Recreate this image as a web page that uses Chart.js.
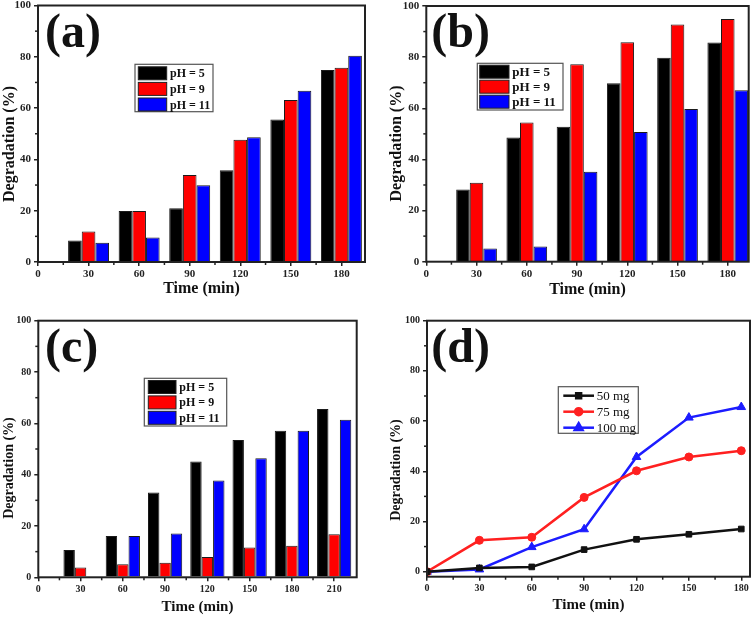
<!DOCTYPE html>
<html><head><meta charset="utf-8">
<script src="https://cdn.jsdelivr.net/npm/chart.js@4.4.0/dist/chart.umd.min.js"></script>
<style>
html,body{margin:0;padding:0;background:#fff;}
#wrap{position:relative;width:756px;height:618px;overflow:hidden;}
canvas{position:absolute;}
</style></head><body>
<div id="wrap">
<canvas id="ca" width="378" height="300" style="left:0;top:0"></canvas>
<canvas id="cb" width="378" height="300" style="left:378px;top:0"></canvas>
<canvas id="cc" width="378" height="318" style="left:0;top:300px"></canvas>
<canvas id="cd" width="378" height="318" style="left:378px;top:300px"></canvas>
</div>
<script>
// ---------- data ----------
const phLabels = ['pH = 5', 'pH = 9', 'pH = 11'];
const massLabels = ['50 mg', '75 mg', '100 mg'];

const timesAB = [30, 60, 90, 120, 150, 180];
const a_pH5  = [8.4, 19.9, 21.0, 35.8, 55.6, 74.9];
const a_pH9  = [11.9, 19.9, 33.9, 47.7, 63.2, 75.7];
const a_pH11 = [7.5, 9.6, 29.9, 48.6, 66.8, 80.4];

const b_pH5  = [28.2, 48.6, 52.8, 69.8, 79.8, 85.7];
const b_pH9  = [30.9, 54.4, 77.2, 85.8, 92.8, 94.9];
const b_pH11 = [5.2, 5.9, 35.2, 50.7, 59.7, 67.1];

const timesC = [30, 60, 90, 120, 150, 180, 210];
const c_pH5  = [10.6, 16.1, 33.0, 45.1, 53.5, 57.1, 65.6];
const c_pH9  = [3.8, 5.1, 5.7, 7.9, 11.6, 12.3, 16.8];
const c_pH11 = [0.3, 16.1, 17.1, 37.7, 46.4, 57.1, 61.4];

const timesD = [0, 30, 60, 90, 120, 150, 180];
const d_50  = [0, 1.5, 1.9, 8.8, 12.9, 14.9, 17.0];
const d_75  = [0, 12.5, 13.7, 29.6, 40.2, 45.7, 48.2];
const d_100 = [0, 0.9, 9.8, 16.9, 45.7, 61.4, 65.6];

const xTicksAB = [0, 30, 60, 90, 120, 150, 180];
const xTicksC  = [0, 30, 60, 90, 120, 150, 180, 210];
const xTicksD  = [0, 30, 60, 90, 120, 150, 180];
const yTicks   = [0, 20, 40, 60, 80, 100];

const xTitle = 'Time (min)';
const yTitle = 'Degradation (%)';

// ---------- helpers ----------
const FONT = "'Liberation Serif','Times New Roman',serif";
Chart.defaults.font.family = FONT;
const BAR_COLORS = ['#000000', '#ff0000', '#0000ff'];
const LINE_COLORS = ['#111111', '#ff2020', '#1c1cff'];
const POINT_STYLES = ['rect', 'circle', 'triangle'];

function minorOf(arr) { const r = []; for (let i = 0; i < arr.length - 1; i++) r.push((arr[i] + arr[i + 1]) / 2); return r; }
function pts(xs, ys) { return xs.map((x, i) => ({ x: x, y: ys[i] })); }

const framePlugin = {
  id: 'frame',
  afterDatasetsDraw(chart) {
    const { ctx, chartArea: a } = chart;
    ctx.save(); ctx.strokeStyle = '#222'; ctx.lineWidth = 2;
    ctx.strokeRect(a.left, a.top, a.right - a.left, a.bottom - a.top);
    ctx.restore();
  }
};
const minorTicksPlugin = {
  id: 'minorTicks',
  afterDraw(chart, args, o) {
    const { ctx, chartArea: a, scales } = chart;
    ctx.save(); ctx.strokeStyle = '#222'; ctx.lineWidth = 1.5;
    (o.x || []).forEach(v => { const p = scales.x.getPixelForValue(v); ctx.beginPath(); ctx.moveTo(p, a.bottom); ctx.lineTo(p, a.bottom + o.len); ctx.stroke(); });
    (o.y || []).forEach(v => { const p = scales.y.getPixelForValue(v); ctx.beginPath(); ctx.moveTo(a.left, p); ctx.lineTo(a.left - o.len, p); ctx.stroke(); });
    ctx.restore();
  }
};
const panelTextPlugin = {
  id: 'panelText',
  afterDraw(chart, args, o) {
    const ctx = chart.ctx; ctx.save(); ctx.fillStyle = '#111';
    ctx.font = 'bold ' + o.labelSize + 'px ' + FONT; ctx.textAlign = 'left'; ctx.textBaseline = 'alphabetic';
    ctx.fillText(o.label, o.lx, o.ly);
    ctx.translate(o.tx, o.ty); ctx.rotate(-Math.PI / 2);
    ctx.font = 'bold ' + o.titleSize + 'px ' + FONT; ctx.textAlign = 'center'; ctx.textBaseline = 'middle';
    ctx.fillText(o.title, 0, 0);
    ctx.restore();
  }
};
const boxLegendPlugin = {
  id: 'boxLegend',
  afterDraw(chart, args, o) {
    const ctx = chart.ctx; ctx.save();
    ctx.fillStyle = '#fff'; ctx.fillRect(o.x, o.y, o.w, o.h);
    ctx.strokeStyle = '#555'; ctx.lineWidth = 1.2; ctx.strokeRect(o.x, o.y, o.w, o.h);
    chart.data.datasets.forEach((ds, i) => {
      const cy = o.y + o.first + i * o.gap;
      if (o.kind === 'bar') {
        ctx.fillStyle = ds.backgroundColor; ctx.fillRect(o.sx, cy - o.sh / 2, o.sw, o.sh);
        ctx.strokeStyle = '#222'; ctx.lineWidth = 1; ctx.strokeRect(o.sx, cy - o.sh / 2, o.sw, o.sh);
      } else {
        ctx.strokeStyle = ds.borderColor; ctx.lineWidth = 2.5;
        ctx.beginPath(); ctx.moveTo(o.sx, cy); ctx.lineTo(o.sx + o.sw, cy); ctx.stroke();
        ctx.fillStyle = ds.pointBackgroundColor; ctx.strokeStyle = ds.borderColor;
        Chart.helpers.drawPoint(ctx, { pointStyle: ds.pointStyle, radius: ds.pointRadius - 0.5, rotation: 0, borderWidth: 1 }, o.sx + o.sw / 2, cy);
      }
      ctx.fillStyle = '#111'; ctx.font = o.font; ctx.textAlign = 'left'; ctx.textBaseline = 'middle';
      ctx.fillText(ds.label, o.tx, cy + 1);
    });
    ctx.restore();
  }
};

function makeScales(p) {
  return {
    x: {
      type: 'linear', min: 0, max: p.xmax, offset: false,
      afterBuildTicks: s => { s.ticks = p.xticks.map(v => ({ value: v })); },
      afterFit: s => { s.height = p.xh; s.paddingLeft = 0; s.paddingRight = 0; },
      grid: { display: true, drawOnChartArea: false, drawTicks: true, tickLength: 4, color: '#222', lineWidth: 1.5, offset: false },
      border: { display: false },
      ticks: { font: { family: FONT, size: p.tickSize, weight: 'bold' }, color: '#222', padding: 2, maxRotation: 0, autoSkip: false },
      title: { display: true, text: xTitle, color: '#111', font: { family: FONT, size: p.xtSize, weight: 'bold' }, padding: { top: 0, bottom: p.xtPad } }
    },
    y: {
      type: 'linear', min: p.ymin, max: 100,
      afterBuildTicks: s => { s.ticks = yTicks.map(v => ({ value: v })); },
      afterFit: s => { s.width = p.yw; s.paddingTop = 0; s.paddingBottom = 0; },
      grid: { display: true, drawOnChartArea: false, drawTicks: true, tickLength: 4, color: '#222', lineWidth: 1.5 },
      border: { display: false },
      ticks: { font: { family: FONT, size: p.tickSize, weight: 'bold' }, color: '#222', padding: 3 },
      title: { display: false }
    }
  };
}

function commonPlugins(p) {
  return {
    legend: { display: false }, tooltip: { enabled: false },
    minorTicks: { x: minorOf(p.xticks), y: minorOf(yTicks), len: 3 },
    panelText: p.panel,
    boxLegend: p.legend
  };
}

function barChart(id, times, series, p) {
  new Chart(document.getElementById(id), {
    type: 'bar',
    data: {
      datasets: series.map((vals, i) => ({
        label: phLabels[i], data: pts(times, vals),
        backgroundColor: BAR_COLORS[i], borderColor: '#1a1a1a', borderWidth: 1,
        categoryPercentage: p.catPct, barPercentage: 1
      }))
    },
    options: {
      responsive: false, animation: false, devicePixelRatio: 1,
      layout: { padding: { top: p.top, right: p.right, left: 0, bottom: 0 } },
      plugins: commonPlugins(p),
      scales: makeScales(p)
    },
    plugins: [framePlugin, minorTicksPlugin, panelTextPlugin, boxLegendPlugin]
  });
}

barChart('ca', timesAB, [a_pH5, a_pH9, a_pH11], {
  xmax: 194, xticks: xTicksAB, ymin: 0, xh: 38, yw: 38, top: 5.5, right: 13,
  tickSize: 11, xtSize: 16, xtPad: 1.4, catPct: 0.81,
  panel: { label: '(a)', labelSize: 48, lx: 45, ly: 46.5, title: yTitle, titleSize: 16, tx: 9.5, ty: 144 },
  legend: { kind: 'bar', x: 135, y: 64.3, w: 78, h: 47.4, first: 9, gap: 15.6, sx: 138.3, sw: 28.4, sh: 13, tx: 170, font: 'bold 12px ' + FONT }
});
barChart('cb', timesAB, [b_pH5, b_pH9, b_pH11], {
  xmax: 192.5, xticks: xTicksAB, ymin: 0, xh: 38.3, yw: 48.3, top: 6, right: 7.3,
  tickSize: 11, xtSize: 16, xtPad: 0.5, catPct: 0.81,
  panel: { label: '(b)', labelSize: 48, lx: 53.3, ly: 46.5, title: yTitle, titleSize: 16, tx: 18.7, ty: 143.5 },
  legend: { kind: 'bar', x: 99.3, y: 63.3, w: 85.7, h: 46.7, first: 8.4, gap: 15, sx: 101.7, sw: 29.3, sh: 13, tx: 134.3, font: 'bold 13px ' + FONT }
});
barChart('cc', timesC, [c_pH5, c_pH9, c_pH11], {
  xmax: 226, xticks: xTicksC, ymin: 0, xh: 40.7, yw: 38.3, top: 20.7, right: 21.3,
  tickSize: 10, xtSize: 15, xtPad: 2.3, catPct: 0.81,
  panel: { label: '(c)', labelSize: 48, lx: 45, ly: 61.5, title: yTitle, titleSize: 14, tx: 9.3, ty: 168 },
  legend: { kind: 'bar', x: 144.3, y: 78.3, w: 82.4, h: 47.7, first: 8.7, gap: 15.4, sx: 148.3, sw: 27.7, sh: 13, tx: 179.3, font: 'bold 12px ' + FONT }
});

new Chart(document.getElementById('cd'), {
  type: 'line',
  data: {
    datasets: [d_50, d_75, d_100].map((vals, i) => ({
      label: massLabels[i], data: pts(timesD, vals),
      borderColor: LINE_COLORS[i], backgroundColor: LINE_COLORS[i],
      pointBackgroundColor: LINE_COLORS[i], pointBorderColor: LINE_COLORS[i],
      pointStyle: POINT_STYLES[i], pointRadius: i === 2 ? 5 : 4, pointBorderWidth: 1,
      borderWidth: 2.5, tension: 0, fill: false
    }))
  },
  options: {
    responsive: false, animation: false, devicePixelRatio: 1,
    layout: { padding: { top: 20.7, right: 3, left: 0, bottom: 0 } },
    plugins: commonPlugins({
      xticks: xTicksD,
      panel: { label: '(d)', labelSize: 48, lx: 53.3, ly: 61.5, title: yTitle, titleSize: 14, tx: 18.3, ty: 170 },
      legend: { kind: 'line', x: 180.3, y: 86.7, w: 80, h: 46.6, first: 9, gap: 16, sx: 185.3, sw: 30.7, tx: 218.7, font: '13px ' + FONT }
    }),
    scales: makeScales({ xmax: 185, xticks: xTicksD, ymin: -2, xh: 41.3, yw: 49, tickSize: 10, xtSize: 15, xtPad: 4 })
  },
  plugins: [framePlugin, minorTicksPlugin, panelTextPlugin, boxLegendPlugin]
});
</script>
</body></html>
